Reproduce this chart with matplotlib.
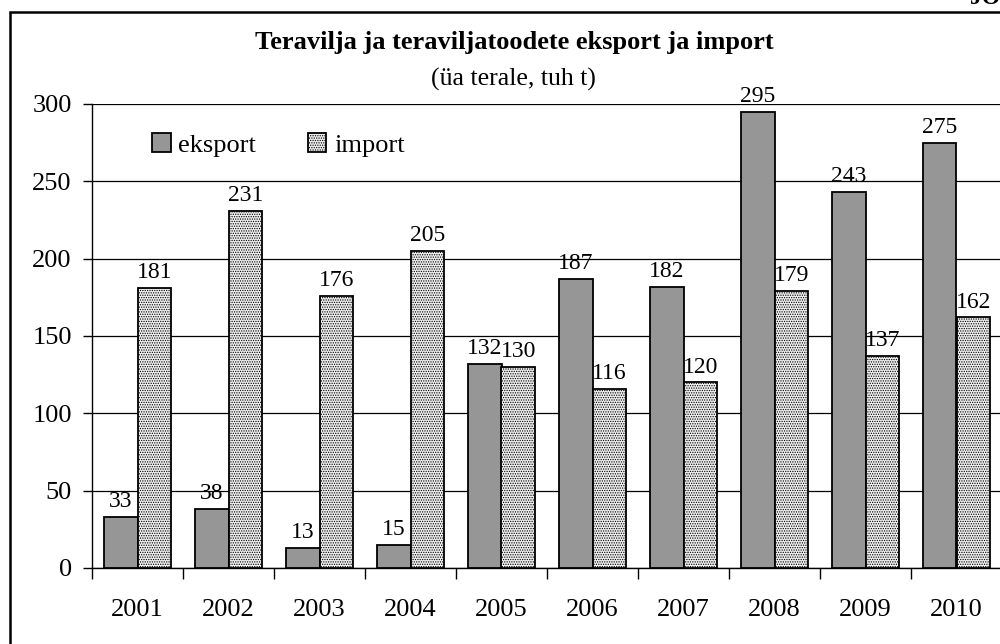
import numpy as np
import matplotlib
matplotlib.use("Agg")
import matplotlib.pyplot as plt
from matplotlib.patches import Rectangle

plt.rcParams['font.family'] = ['Liberation Serif', 'DejaVu Serif']
plt.rcParams['hatch.color'] = '#9a9a9a'
plt.rcParams['hatch.linewidth'] = 0.6

years = ["2001", "2002", "2003", "2004", "2005", "2006", "2007", "2008", "2009", "2010"]
eksport = [33, 38, 13, 15, 132, 187, 182, 295, 243, 275]
imports = [181, 231, 176, 205, 130, 116, 120, 179, 137, 162]

fig = plt.figure(figsize=(10, 6.44), dpi=100)

# outer frame of the (cropped) chart object
fig.patches.append(Rectangle((0.010, -0.05), 1.2, 0.05 + (644 - 12) / 644,
                             transform=fig.transFigure, fill=False,
                             edgecolor='black', linewidth=1.8))
fig.text(0.970, 1 - 9 / 644, "JOONIS", fontsize=17, fontweight='bold',
         va='bottom', ha='left')

ax = fig.add_axes([0.092, 76 / 644, 0.910, (568 - 104) / 644])

x = np.arange(len(years))
w = 0.37
b1 = ax.bar(x - w / 2, eksport, w, color='#969696', edgecolor='black',
            linewidth=1.3, label='eksport', zorder=3)
b2 = ax.bar(x + w / 2, imports, w, color='#eeeeee', edgecolor='black',
            linewidth=1.3, hatch='.......', label='import', zorder=3)

for bars, vals in ((b1, eksport), (b2, imports)):
    for r, v in zip(bars, vals):
        ax.annotate(str(v), (r.get_x() + r.get_width() / 2, v),
                    xytext=(0, 3.5), textcoords='offset points',
                    ha='center', va='bottom', fontsize=17)

ax.set_xlim(-0.5, len(years) - 0.5)
ax.set_ylim(0, 300)
ax.set_yticks(range(0, 301, 50))
ax.yaxis.grid(True, color='black', linewidth=0.9, zorder=0)
ax.set_axisbelow(True)

ax.set_xticks(x)
ax.set_xticklabels(years)
ax.set_xticks(np.arange(-0.5, len(years), 1), minor=True)
ax.tick_params(axis='x', which='major', length=0, pad=22, labelsize=19)
ax.tick_params(axis='x', which='minor', length=8, width=1, direction='out')
ax.tick_params(axis='y', length=6.5, width=1, labelsize=19, pad=8)

for s in ('top', 'right'):
    ax.spines[s].set_visible(False)
ax.spines['left'].set_linewidth(1)
ax.spines['bottom'].set_linewidth(1)

leg = ax.legend(loc='center left', bbox_to_anchor=(0.066, 0.912), ncol=2,
                frameon=False, fontsize=19, handlelength=0.7,
                handleheight=0.7, handletextpad=0.3, columnspacing=1.95,
                borderpad=0, borderaxespad=0)

fig.text(0.514, 1 - 42 / 644, "Teravilja ja teraviljatoodete eksport ja import",
         ha='center', va='center', fontsize=19, fontweight='bold')
fig.text(0.513, 1 - 79 / 644, "(üa terale, tuh t)", ha='center', va='center',
         fontsize=18.5)

fig.savefig("out.png", dpi=100)
